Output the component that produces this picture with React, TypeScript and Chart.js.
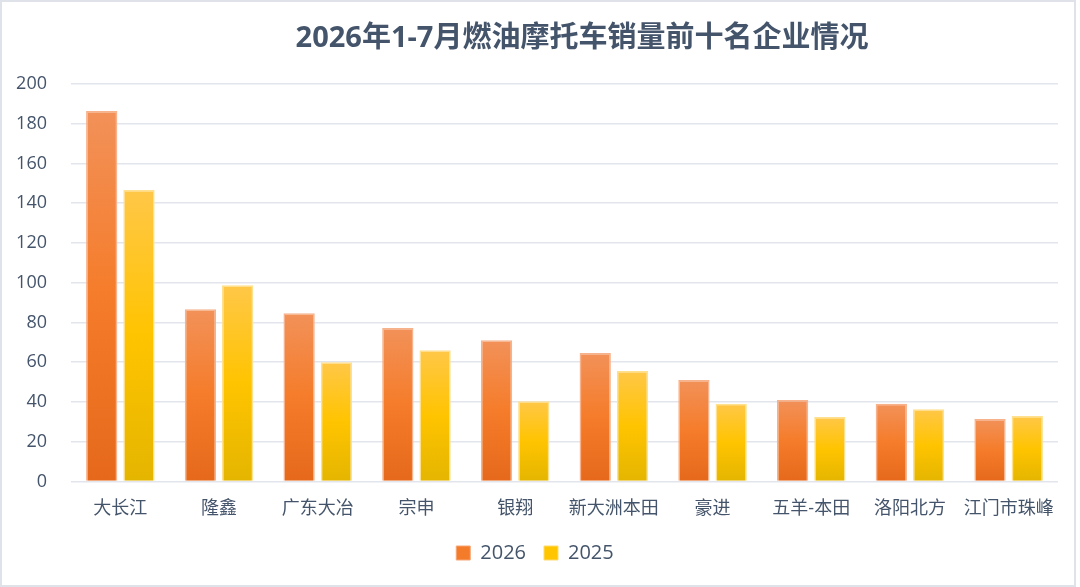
import { useEffect, useRef } from 'react'
import { Chart, registerables } from 'chart.js'

Chart.register(...registerables)

const companies = ['大长江', '隆鑫', '广东大冶', '宗申', '银翔', '新大洲本田', '豪进', '五羊-本田', '洛阳北方', '江门市珠峰']
const sales2026 = [186.4, 86.6, 84.6, 77.2, 71.0, 64.6, 51.0, 41.0, 39.1, 31.4]
const sales2025 = [146.6, 98.7, 60.0, 66.0, 40.4, 55.6, 39.1, 32.4, 36.3, 32.9]
const titleText = '2026年1-7月燃油摩托车销量前十名企业情况'

const FONT = "'Open Sans', 'Noto Sans CJK SC', sans-serif"
const TEXT = '#44546A'

// each bar gets its own top-to-bottom gradient
function barFill(stops: string[]) {
  return (ctx: any) => {
    const chart = ctx.chart
    const area = chart.chartArea
    if (!area || ctx.raw == null) return stops[1]
    const y = chart.scales.y
    const top = y.getPixelForValue(ctx.raw)
    const base = y.getPixelForValue(0)
    if (!isFinite(top) || base - top < 1) return stops[1]
    const g = chart.ctx.createLinearGradient(0, top, 0, base)
    g.addColorStop(0, stops[0])
    g.addColorStop(0.5, stops[1])
    g.addColorStop(1, stops[2])
    return g
  }
}

const titleAndFrame = {
  id: 'titleAndFrame',
  beforeDraw(chart: any) {
    const c = chart.ctx
    c.save()
    c.strokeStyle = '#DFE3E9'
    c.lineWidth = 2
    c.strokeRect(1, 1, chart.width - 6, chart.height - 2)
    c.restore()
  },
  afterDraw(chart: any) {
    const c = chart.ctx
    c.save()
    c.font = `bold 29px ${FONT}`
    c.fillStyle = TEXT
    c.textAlign = 'center'
    c.textBaseline = 'middle'
    c.fillText(titleText, 582, 39)
    c.restore()
  },
}

export default function App() {
  const ref = useRef<HTMLCanvasElement | null>(null)

  useEffect(() => {
    if (!ref.current) return
    const chart = new Chart(ref.current, {
      type: 'bar',
      data: {
        labels: companies,
        datasets: [
          {
            label: '2026',
            data: sales2026,
            backgroundColor: barFill(['#F29159', '#F57C2A', '#E6691B']),
            borderColor: '#F7B28C',
            borderWidth: 1.5,
            borderSkipped: 'bottom',
            categoryPercentage: 0.755,
            barPercentage: 0.84,
          },
          {
            label: '2025',
            data: sales2025,
            backgroundColor: barFill(['#FFC748', '#FFC400', '#E4B500']),
            borderColor: '#FFE08C',
            borderWidth: 1.5,
            borderSkipped: 'bottom',
            categoryPercentage: 0.755,
            barPercentage: 0.84,
          },
        ],
      },
      options: {
        animation: false,
        responsive: true,
        maintainAspectRatio: false,
        layout: { padding: { top: 84, left: 12, right: 22, bottom: 14 } },
        plugins: {
          title: { display: false },
          tooltip: { enabled: false },
          legend: {
            position: 'bottom',
            labels: {
              color: TEXT,
              font: { family: FONT, size: 20 },
              boxWidth: 14,
              boxHeight: 14,
              padding: 18,
              generateLabels: () => [
                { text: '2026', fillStyle: '#F47B2A', strokeStyle: '#F7A676', lineWidth: 1, fontColor: TEXT, datasetIndex: 0 },
                { text: '2025', fillStyle: '#FFC600', strokeStyle: '#FFDB70', lineWidth: 1, fontColor: TEXT, datasetIndex: 1 },
              ],
            },
          },
        },
        scales: {
          x: {
            grid: { display: false },
            border: { display: false },
            ticks: { color: TEXT, font: { family: FONT, size: 18 }, padding: 9 },
            afterFit: (scale: any) => { scale.height -= 4 },
          },
          y: {
            min: 0,
            max: 200,
            ticks: { stepSize: 20, color: TEXT, font: { family: FONT, size: 18 }, padding: 24 },
            grid: { color: '#E2E6EC', lineWidth: 1.5, drawTicks: false },
            border: { display: false },
            afterFit: (scale: any) => { scale.width = 59 },
          },
        },
      },
      plugins: [titleAndFrame],
    })
    return () => chart.destroy()
  }, [])

  return (
    <div style={{ position: 'absolute', left: 0, top: 0, width: 1080, height: 587, background: '#fff' }}>
      <canvas ref={ref} />
    </div>
  )
}
